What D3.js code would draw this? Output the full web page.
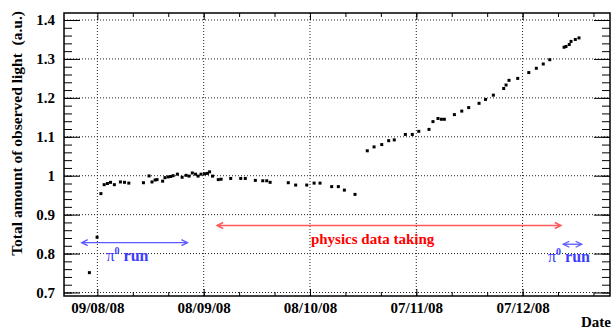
<!DOCTYPE html>
<html>
<head>
<meta charset="utf-8">
<script src="https://cdn.jsdelivr.net/npm/d3@7"></script>
<style>
  body { margin: 0; background: #fff; }
  svg text { font-family: "Liberation Serif", "Times New Roman", serif; font-weight: bold; }
</style>
</head>
<body>
<div id="chart"></div>
<script>
// measurement dates (local time, hour resolution)
const dates = [
  "2008-08-06T18", "2008-08-08T22", "2008-08-10T00", "2008-08-10T22", "2008-08-11T20",
  "2008-08-12T17", "2008-08-13T19", "2008-08-15T12", "2008-08-16T16", "2008-08-17T21",
  "2008-08-22T00", "2008-08-23T14", "2008-08-24T10", "2008-08-25T07", "2008-08-25T20",
  "2008-08-27T10", "2008-08-28T02", "2008-08-28T23", "2008-08-29T16", "2008-08-30T09",
  "2008-08-31T14", "2008-09-01T22", "2008-09-03T01", "2008-09-03T21", "2008-09-04T19",
  "2008-09-05T17", "2008-09-06T10", "2008-09-07T06", "2008-09-08T06", "2008-09-09T02",
  "2008-09-09T16", "2008-09-10T12", "2008-09-12T03", "2008-09-12T22", "2008-09-15T15",
  "2008-09-18T11", "2008-09-19T18", "2008-09-22T14", "2008-09-24T16", "2008-09-25T19",
  "2008-09-26T18", "2008-10-01T21", "2008-10-03T23", "2008-10-07T02", "2008-10-09T04",
  "2008-10-10T20", "2008-10-14T03", "2008-10-16T00", "2008-10-17T17", "2008-10-20T17",
  "2008-10-24T04", "2008-10-26T02", "2008-10-28T06", "2008-10-30T05", "2008-10-31T19",
  "2008-11-03T22", "2008-11-05T21", "2008-11-07T17", "2008-11-10T14", "2008-11-11T17",
  "2008-11-13T03", "2008-11-14T02", "2008-11-14T22", "2008-11-17T18", "2008-11-19T20",
  "2008-11-21T19", "2008-11-24T17", "2008-11-26T13", "2008-11-28T18", "2008-12-01T16",
  "2008-12-02T08", "2008-12-03T04", "2008-12-05T15", "2008-12-08T18", "2008-12-10T21",
  "2008-12-12T20", "2008-12-14T16", "2008-12-18T17", "2008-12-19T06", "2008-12-20T04",
  "2008-12-20T16", "2008-12-21T21", "2008-12-22T22"
];
const lightValues = [
  0.751, 0.842, 0.954, 0.977, 0.980,
  0.983, 0.977, 0.984, 0.983, 0.981,
  0.982, 0.9995, 0.984, 0.989, 0.990,
  0.986, 0.995, 0.997, 0.998, 1.000,
  1.004, 0.996, 1.001, 0.999, 1.007,
  1.004, 0.999, 1.004, 1.005, 1.006,
  1.010, 0.999, 0.990, 0.991, 0.993,
  0.993, 0.993, 0.988, 0.987, 0.987,
  0.983, 0.982, 0.976, 0.976, 0.981,
  0.981, 0.972, 0.972, 0.963, 0.952,
  1.064, 1.074, 1.080, 1.090, 1.092,
  1.106, 1.106, 1.114, 1.119, 1.139,
  1.147, 1.145, 1.145, 1.157, 1.166,
  1.175, 1.186, 1.196, 1.207, 1.224,
  1.233, 1.245, 1.250, 1.265, 1.276,
  1.287, 1.298, 1.330, 1.332, 1.337,
  1.345, 1.350, 1.354
];

const xTickDates = ["2008-08-09", "2008-09-08", "2008-10-08", "2008-11-07", "2008-12-07"];
const yTicks = [0.7, 0.8, 0.9, 1.0, 1.1, 1.2, 1.3, 1.4];
const yTickLabels = ["0.7", "0.8", "0.9", "1", "1.1", "1.2", "1.3", "1.4"];

// annotations: [start, end, value]
const pi0Arrows = [["2008-08-04T14", "2008-09-03T10", 0.828], ["2008-12-18T12", "2008-12-23T16", 0.824]];
const pi0Labels = [["2008-08-17T12", 0.781], ["2008-12-20T02", 0.778]];
const physicsArrow = ["2008-09-11T19", "2008-12-17T19", 0.872];
const physicsLabel = ["2008-10-25T16", 0.824];

(function () {

  const width = 611, height = 331;
  const fLeft = 64, fRight = 610, fTop = 13, fBottom = 296;

  const parseHour = d3.timeParse("%Y-%m-%dT%H");
  const parseDay = d3.timeParse("%Y-%m-%d");

  const svg = d3.select("#chart").append("svg")
    .attr("width", width)
    .attr("height", height);

  const x = d3.scaleTime()
    .domain([parseHour("2008-07-30T14"), parseHour("2008-12-31T16")])
    .range([fLeft, fRight]);

  const y = d3.scaleLinear()
    .domain([0.691, 1.418])
    .range([fBottom, fTop]);

  const majorX = xTickDates.map(parseDay);
  const minorX = [];
  for (let d = d3.timeDay.offset(majorX[0], 10); d < x.domain()[1]; d = d3.timeDay.offset(d, 10)) {
    minorX.push(d);
  }
  const minorY = d3.range(0.70, 1.4101, 0.02);

  // grid
  const grid = svg.append("g")
    .attr("stroke", "#222")
    .attr("stroke-width", 1)
    .attr("stroke-dasharray", "1,2");
  grid.selectAll(".gx")
    .data(majorX)
    .join("line")
    .attr("x1", d => x(d)).attr("x2", d => x(d))
    .attr("y1", fTop).attr("y2", fBottom);
  grid.selectAll(".gy")
    .data(yTicks)
    .join("line")
    .attr("x1", fLeft).attr("x2", fRight)
    .attr("y1", d => y(d)).attr("y2", d => y(d));

  function styleAxis(g) {
    g.select(".domain").remove();
    g.selectAll("line").attr("stroke", "#000").attr("stroke-width", 1);
  }

  // bottom axis
  const fmt = d3.timeFormat("%d/%m/%y");
  svg.append("g")
    .attr("transform", `translate(0,${fBottom})`)
    .call(d3.axisBottom(x).tickValues(minorX).tickSize(-4).tickFormat(""))
    .call(styleAxis);
  svg.append("g")
    .attr("transform", `translate(0,${fBottom})`)
    .call(d3.axisBottom(x).tickValues(majorX).tickSize(-7).tickFormat(fmt))
    .call(styleAxis)
    .call(g => g.selectAll("text")
      .attr("y", 17).attr("dy", 0)
      .attr("fill", "#000")
      .style("font-size", "15px"));

  // top axis
  svg.append("g")
    .attr("transform", `translate(0,${fTop})`)
    .call(d3.axisTop(x).tickValues(minorX).tickSize(-4).tickFormat(""))
    .call(styleAxis);
  svg.append("g")
    .attr("transform", `translate(0,${fTop})`)
    .call(d3.axisTop(x).tickValues(majorX).tickSize(-7).tickFormat(""))
    .call(styleAxis);

  // left axis
  svg.append("g")
    .attr("transform", `translate(${fLeft},0)`)
    .call(d3.axisLeft(y).tickValues(minorY).tickSize(-8).tickFormat(""))
    .call(styleAxis);
  svg.append("g")
    .attr("transform", `translate(${fLeft},0)`)
    .call(d3.axisLeft(y).tickValues(yTicks).tickSize(-16).tickPadding(9)
      .tickFormat((d, i) => yTickLabels[i]))
    .call(styleAxis)
    .call(g => g.selectAll("text")
      .attr("fill", "#000")
      .style("font-size", "15px"));

  // right axis
  svg.append("g")
    .attr("transform", `translate(${fRight},0)`)
    .call(d3.axisRight(y).tickValues(minorY).tickSize(-8).tickFormat(""))
    .call(styleAxis);
  svg.append("g")
    .attr("transform", `translate(${fRight},0)`)
    .call(d3.axisRight(y).tickValues(yTicks).tickSize(-16).tickFormat(""))
    .call(styleAxis);

  // frame
  svg.append("rect")
    .attr("x", fLeft).attr("y", fTop)
    .attr("width", fRight - fLeft).attr("height", fBottom - fTop)
    .attr("fill", "none")
    .attr("stroke", "#000")
    .attr("stroke-width", 1.5);

  // axis titles
  svg.append("text")
    .attr("transform", `translate(22,11) rotate(-90)`)
    .attr("text-anchor", "end")
    .attr("xml:space", "preserve")
    .style("white-space", "pre")
    .style("font-size", "15.5px")
    .text("Total amount of observed light  (a.u.)");

  svg.append("text")
    .attr("x", 611).attr("y", 327)
    .attr("text-anchor", "end")
    .style("font-size", "15px")
    .text("Date");

  // points
  svg.append("g")
    .selectAll("rect")
    .data(dates.map((d, i) => ({ date: parseHour(d), value: lightValues[i] })))
    .join("rect")
    .attr("x", d => x(d.date) - 1.5)
    .attr("y", d => y(d.value) - 1.5)
    .attr("width", 3)
    .attr("height", 3)
    .attr("fill", "#000");

  // double arrows
  function doubleArrow(a, color, w) {
    const x1 = x(parseHour(a[0])), x2 = x(parseHour(a[1])), yy = y(a[2]);
    const g = svg.append("g")
      .attr("stroke", color)
      .attr("stroke-width", w)
      .attr("fill", "none");
    g.append("line").attr("x1", x1).attr("x2", x2).attr("y1", yy).attr("y2", yy);
    g.append("path").attr("d", `M${x1 + 6},${yy - 3}L${x1},${yy}L${x1 + 6},${yy + 3}`);
    g.append("path").attr("d", `M${x2 - 6},${yy - 3}L${x2},${yy}L${x2 - 6},${yy + 3}`);
  }

  pi0Arrows.forEach(a => doubleArrow(a, "#5a5aff", 1.3));
  doubleArrow(physicsArrow, "#ff5a5a", 1.5);

  pi0Labels.forEach(p => {
    const t = svg.append("text")
      .attr("x", x(parseHour(p[0])))
      .attr("y", y(p[1]))
      .attr("text-anchor", "middle")
      .attr("fill", "#3c3cff")
      .style("font-size", "16px");
    t.append("tspan").style("font-weight", "normal").text("π");
    t.append("tspan").attr("dy", -7).style("font-size", "10px").text("0");
    t.append("tspan").attr("dy", 7).text(" run");
  });

  svg.append("text")
    .attr("x", x(parseHour(physicsLabel[0])))
    .attr("y", y(physicsLabel[1]))
    .attr("text-anchor", "middle")
    .attr("fill", "#ff0000")
    .style("font-size", "15px")
    .text("physics data taking");

})();
</script>
</body>
</html>
